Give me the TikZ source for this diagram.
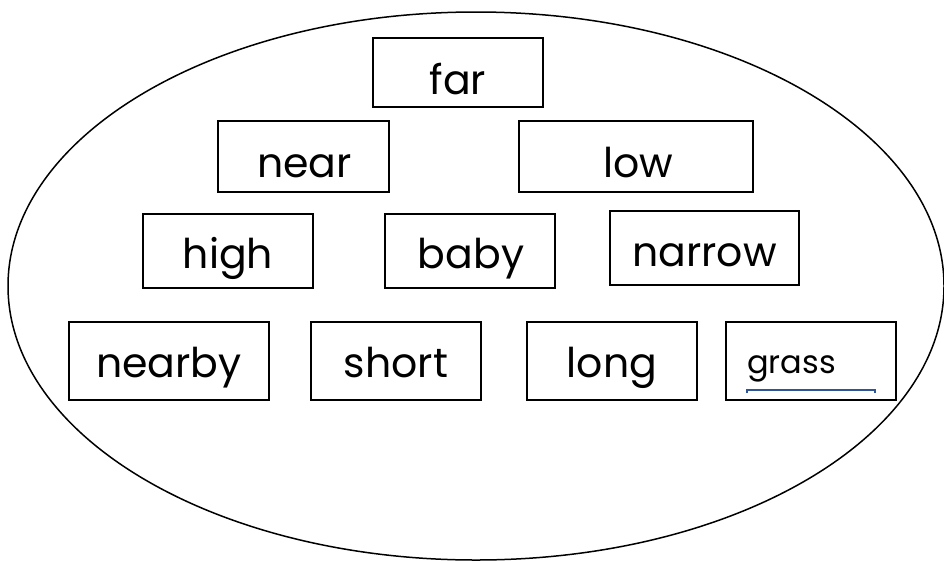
\documentclass[tikz,border=0pt]{standalone}
\usepackage{fontspec}
\setmainfont{Poppins}
\usetikzlibrary{calc,shapes.geometric}
\definecolor{uline}{RGB}{47,85,151}
\tikzset{
  box/.style={draw=black, line width=2pt, inner sep=0pt, anchor=north west},
  word/.style={anchor=base, inner sep=0pt, font=\fontsize{41}{43}\selectfont},
  smallword/.style={anchor=base west, inner sep=0pt, font=\fontsize{32}{34}\selectfont},
}
\begin{document}
\begin{tikzpicture}[x=1pt,y=1pt]
\useasboundingbox (0,0) rectangle (944,-560);
\node[draw, line width=1.5pt, ellipse, minimum width=936pt, minimum height=548pt, inner sep=0pt] (oval) at (476,-286) {};
% boxes
\node[box, minimum width=170pt, minimum height=69pt] (far) at (372,-37) {};
\node[box, minimum width=171pt, minimum height=71pt] (near) at (217,-120) {};
\node[box, minimum width=234pt, minimum height=71pt] (low) at (518,-120) {};
\node[box, minimum width=170pt, minimum height=74pt] (high) at (142,-213) {};
\node[box, minimum width=170pt, minimum height=74pt] (baby) at (384,-213) {};
\node[box, minimum width=189pt, minimum height=74pt] (narrow) at (609,-210) {};
\node[box, minimum width=200pt, minimum height=78pt] (nearby) at (68,-321) {};
\node[box, minimum width=170pt, minimum height=78pt] (short) at (310,-321) {};
\node[box, minimum width=170pt, minimum height=78pt] (long) at (526,-321) {};
\node[box, minimum width=170pt, minimum height=78pt] (grass) at (725,-321) {};
% words
\node[word] (tfar) at ($(far.south)+(0,14)$) {far};
\node[word] (tnear) at ($(near.south)+(1,16)$) {near};
\node[word] (tlow) at ($(low.south)+(2,16)$) {low};
\node[word] (thigh) at ($(high.south)+(0,21)$) {high};
\node[word] (tbaby) at ($(baby.south)+(1,21)$) {baby};
\node[word] (tnarrow) at ($(narrow.south)+(0,20)$) {narrow};
\node[word] (tnearby) at ($(nearby.south)+(0,24)$) {nearby};
\node[word] (tshort) at ($(short.south)+(0,24)$) {short};
\node[word] (tlong) at ($(long.south)+(0,24)$) {long};
\node[smallword] (tgrass) at ($(grass.south west)+(22,28)$) {grass};
\coordinate (ua) at ($(grass.south west)+(22,11)$);
\coordinate (ub) at ($(grass.south west)+(150,11)$);
\draw[uline, line width=1.5pt] ($(ua)+(0,-3)$) -- (ua) -- (ub) -- ($(ub)+(0,-3)$);
\end{tikzpicture}
\end{document}
